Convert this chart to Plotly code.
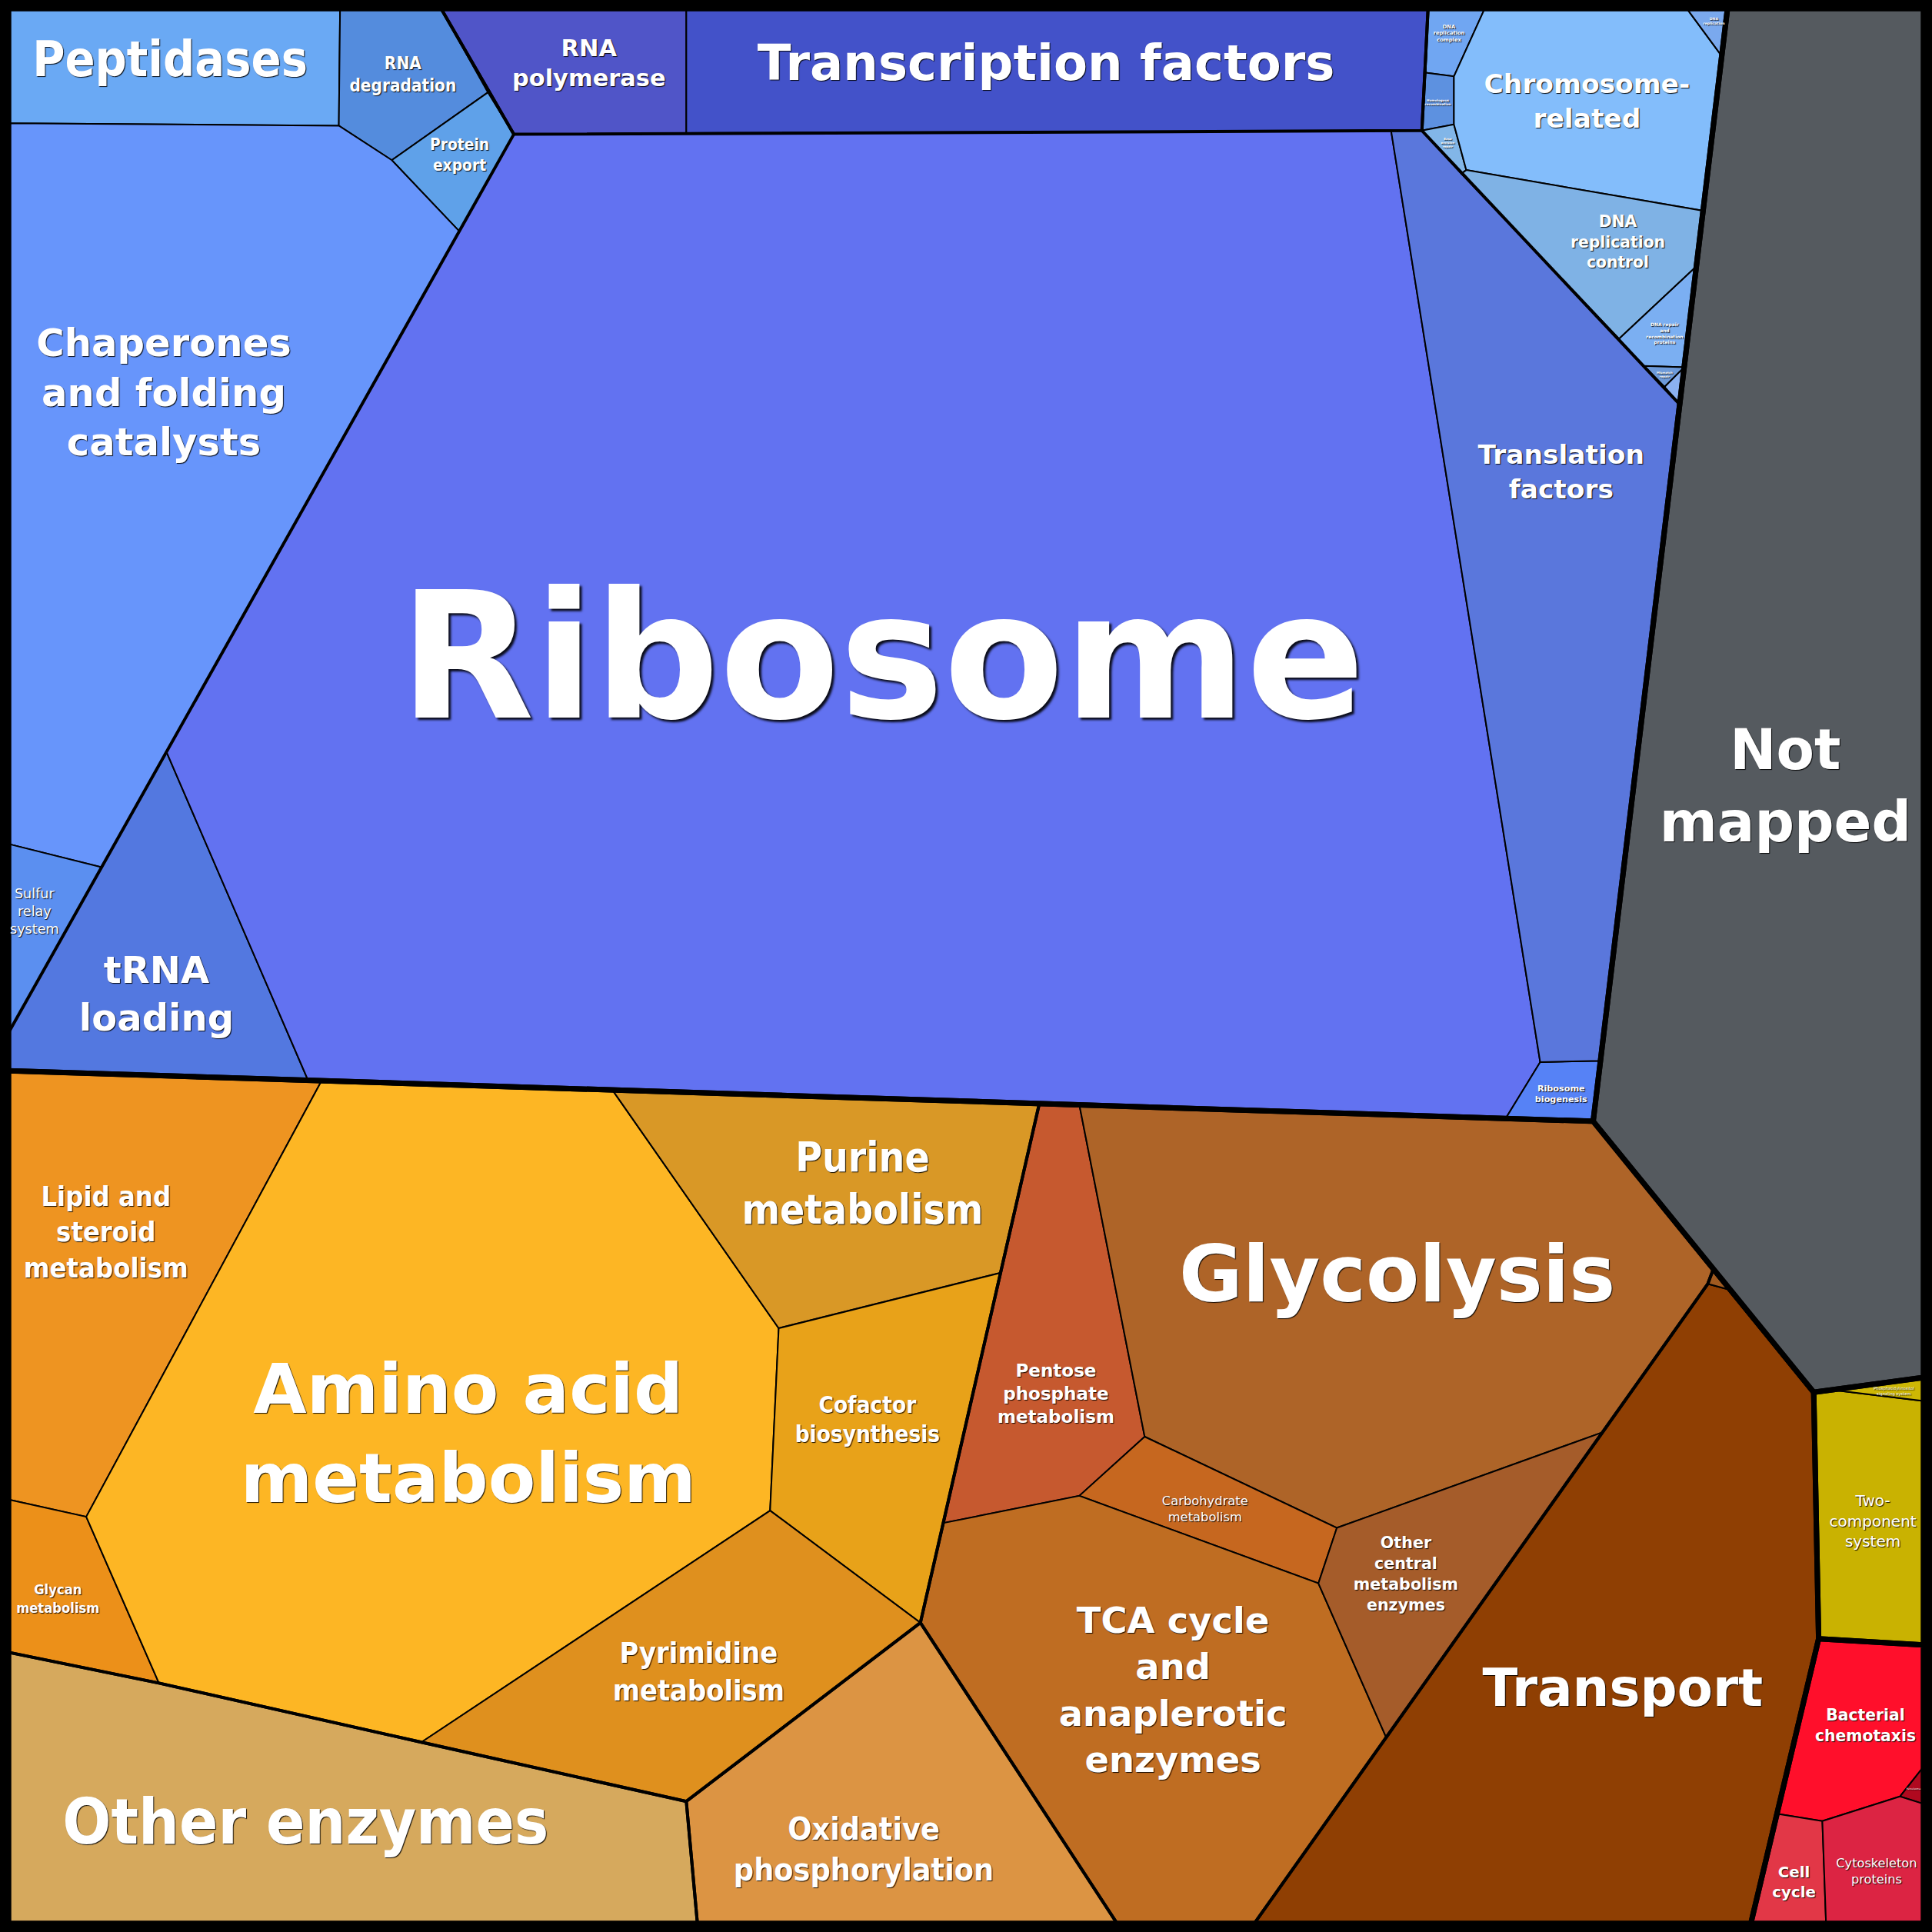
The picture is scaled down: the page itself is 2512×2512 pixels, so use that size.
import plotly.graph_objects as go

# ---- data: functional categories, their sub-category and top category ----
CATEGORIES = [
    "Peptidases", "RNA degradation", "Protein export", "Chaperones and folding catalysts", "Sulfur relay system",
    "tRNA loading", "Ribosome", "Ribosome biogenesis", "Translation factors",
    "RNA polymerase", "Transcription factors",
    "DNA replication complex", "Homologous recombination", "Base excision repair", "Chromosome-related",
    "DNA replication", "DNA replication control", "DNA repair and recombination proteins", "Mismatch repair",
    "Other repair",
    "Lipid and steroid metabolism", "Glycan metabolism", "Amino acid metabolism", "Purine metabolism",
    "Cofactor biosynthesis", "Pyrimidine metabolism", "Other enzymes", "Oxidative phosphorylation",
    "Pentose phosphate metabolism", "Glycolysis", "Carbohydrate metabolism",
    "TCA cycle and anaplerotic enzymes", "Other central metabolism enzymes", "Transport", "Other transport",
    "Not mapped",
    "Two-component system", "Phosphatidylinositol signaling system",
    "Bacterial chemotaxis", "Peroxisome", "Cell cycle", "Cytoskeleton proteins",
]
SUBGROUPS = (
    ["Folding, sorting and degradation"] * 5 + ["Translation"] * 4 + ["Transcription"] * 2
    + ["Replication and repair"] * 9
    + ["Building block metabolism"] * 6 + ["Other enzymes", "Energy metabolism"]
    + ["Central carbon metabolism"] * 5 + ["Membrane transport"] * 2
    + ["Not mapped"] + ["Signal transduction"] * 2 + ["Cellular processes"] * 4
)
GROUPS = (
    ["Genetic information processing"] * 20 + ["Metabolism"] * 15 + ["Not mapped"]
    + ["Environmental information processing"] * 2 + ["Cellular processes"] * 4
)

# ---- style ----
COLORS = {
    "Peptidases": "#6aa9f4", "RNA degradation": "#548cdd", "Protein export": "#5fa1e9",
    "Chaperones and folding catalysts": "#6795fb", "Sulfur relay system": "#5b8ff0",
    "tRNA loading": "#5378e0", "Ribosome": "#6272f1", "Ribosome biogenesis": "#5682f6",
    "Translation factors": "#5a77dc", "RNA polymerase": "#5055c8", "Transcription factors": "#4352c9",
    "DNA replication complex": "#70a6f2", "Homologous recombination": "#5d91e0",
    "Base excision repair": "#82b6e8", "Chromosome-related": "#83bdfb", "DNA replication": "#7aa9ee",
    "DNA replication control": "#7fb2e5", "DNA repair and recombination proteins": "#7baff2",
    "Mismatch repair": "#6d9ad9", "Other repair": "#8bb1f1",
    "Lipid and steroid metabolism": "#ee9421", "Glycan metabolism": "#ec9019",
    "Amino acid metabolism": "#fdb624", "Purine metabolism": "#d99826", "Cofactor biosynthesis": "#e8a219",
    "Pyrimidine metabolism": "#df901e", "Other enzymes": "#d6a95d", "Oxidative phosphorylation": "#dc9443",
    "Pentose phosphate metabolism": "#c6592f", "Glycolysis": "#ae6428", "Carbohydrate metabolism": "#c6671f",
    "TCA cycle and anaplerotic enzymes": "#bf6d22", "Other central metabolism enzymes": "#a55c2a",
    "Transport": "#8f3f03", "Other transport": "#a05a20",
    "Not mapped": "#555a5f",
    "Two-component system": "#c9b201", "Phosphatidylinositol signaling system": "#cdb704",
    "Bacterial chemotaxis": "#ff0f2b", "Peroxisome": "#b0091f", "Cell cycle": "#e23747",
    "Cytoskeleton proteins": "#dc2443",
}

# ---- layout geometry (canvas units 0..1568, y downwards) ----
CANVAS = 1568
CELLS = {
    "Peptidases": [(7, 7), (276, 7), (275, 102), (7, 100)],
    "RNA degradation": [(276, 7), (358, 7), (396, 75), (318, 130), (275, 102)],
    "Protein export": [(396, 75), (417, 109), (373, 188), (318, 130)],
    "Chaperones and folding catalysts": [(7, 100), (275, 102), (318, 130), (373, 188), (83, 704), (7, 685)],
    "Sulfur relay system": [(7, 685), (83, 704), (7, 838)],
    "tRNA loading": [(135, 610), (250, 876.7), (7, 869), (7, 838)],
    "Ribosome": [(417, 109), (1129, 106), (1250, 862), (1222, 907.7), (876, 896.7), (843.5, 895.7),
                 (497, 884.6), (250, 876.7), (135, 610)],
    "Ribosome biogenesis": [(1250, 862), (1299, 861), (1293, 910), (1222, 907.7)],
    "Translation factors": [(1129, 106), (1154, 106), (1363, 328), (1299, 861), (1250, 862)],
    "RNA polymerase": [(358, 7), (557, 7), (557, 108), (417, 109)],
    "Transcription factors": [(557, 7), (1159, 7), (1154, 106), (557, 108)],
    "DNA replication complex": [(1159, 7), (1205, 7), (1180, 62), (1157, 59)],
    "Homologous recombination": [(1157, 59), (1180, 62), (1180, 101), (1154, 106)],
    "Base excision repair": [(1154, 106), (1180, 101), (1190, 138), (1186, 141)],
    "Chromosome-related": [(1205, 7), (1369, 7), (1397, 45), (1382, 171), (1190, 138), (1180, 101), (1180, 62)],
    "DNA replication": [(1369, 7), (1402, 7), (1397, 45)],
    "DNA replication control": [(1186, 141), (1190, 138), (1382, 171), (1377, 216), (1314, 275)],
    "DNA repair and recombination proteins": [(1314, 275), (1377, 216), (1367, 298), (1334, 297)],
    "Mismatch repair": [(1334, 297), (1367, 298), (1351, 314)],
    "Other repair": [(1351, 314), (1367, 298), (1363, 328)],
    "Lipid and steroid metabolism": [(7, 869), (261, 877.1), (70, 1231), (7, 1217)],
    "Glycan metabolism": [(7, 1217), (70, 1231), (129, 1366), (7, 1341)],
    "Amino acid metabolism": [(261, 877.1), (497, 884.6), (632, 1078), (625, 1226), (342, 1414),
                              (129, 1366), (70, 1231)],
    "Purine metabolism": [(497, 884.6), (843.5, 895.7), (812, 1033), (632, 1078)],
    "Cofactor biosynthesis": [(632, 1078), (812, 1033), (766, 1236), (747, 1317), (625, 1226)],
    "Pyrimidine metabolism": [(625, 1226), (747, 1317), (557, 1462), (342, 1414)],
    "Other enzymes": [(7, 1341), (129, 1366), (342, 1414), (557, 1462), (566, 1561), (7, 1561)],
    "Oxidative phosphorylation": [(557, 1462), (747, 1317), (906.6, 1561), (566, 1561)],
    "Pentose phosphate metabolism": [(843.5, 895.7), (876, 896.7), (929, 1166), (876, 1214), (766, 1236)],
    "Glycolysis": [(876, 896.7), (1293, 910), (1390.5, 1030), (1386, 1042), (1300.5, 1162.5),
                   (1085, 1240), (929, 1166)],
    "Carbohydrate metabolism": [(929, 1166), (1085, 1240), (1070, 1285), (876, 1214)],
    "TCA cycle and anaplerotic enzymes": [(747, 1317), (766, 1236), (876, 1214), (1070, 1285), (1125, 1410),
                                          (1018, 1561), (906.6, 1561)],
    "Other central metabolism enzymes": [(1085, 1240), (1300.5, 1162.5), (1125, 1410), (1070, 1285)],
    "Transport": [(1386, 1042), (1404.5, 1047), (1472, 1130), (1476, 1330), (1421, 1561), (1018, 1561),
                  (1125, 1410), (1300.5, 1162.5)],
    "Other transport": [(1390.5, 1030), (1404.5, 1047), (1386, 1042)],
    "Not mapped": [(1402, 7), (1561, 7), (1561, 1118), (1472, 1130), (1293, 910)],
    "Two-component system": [(1486, 1128), (1561, 1137), (1561, 1335), (1476, 1330), (1472, 1130)],
    "Phosphatidylinositol signaling system": [(1486, 1128), (1561, 1118), (1561, 1137)],
    "Bacterial chemotaxis": [(1476, 1330), (1561, 1335), (1561, 1434), (1542, 1458), (1479, 1478), (1442, 1472)],
    "Peroxisome": [(1561, 1434), (1561, 1464), (1542, 1458)],
    "Cell cycle": [(1442, 1472), (1479, 1478), (1482, 1561), (1421, 1561)],
    "Cytoskeleton proteins": [(1479, 1478), (1542, 1458), (1561, 1464), (1561, 1561), (1482, 1561)],
}
SUBGROUP_OUTLINES = {
    "Folding, sorting and degradation": [(7, 7), (358, 7), (417, 109), (7, 838)],
    "Transcription": [(358, 7), (1159, 7), (1154, 106), (417, 109)],
    "Replication and repair": [(1159, 7), (1402, 7), (1363, 328), (1154, 106)],
    "Building block metabolism": [(7, 869), (843.5, 895.7), (747, 1317), (557, 1462), (342, 1414),
                                  (129, 1366), (7, 1341)],
    "Other enzymes": CELLS["Other enzymes"],
    "Energy metabolism": CELLS["Oxidative phosphorylation"],
    "Central carbon metabolism": [(843.5, 895.7), (1293, 910), (1390.5, 1030), (1386, 1042), (1018, 1561),
                                  (906.6, 1561), (747, 1317)],
    "Membrane transport": [(1390.5, 1030), (1472, 1130), (1476, 1330), (1421, 1561), (1018, 1561), (1386, 1042)],
}
GROUP_OUTLINES = {
    "Genetic information processing": [(7, 7), (1402, 7), (1293, 910), (7, 869)],
    "Metabolism": [(7, 869), (1293, 910), (1472, 1130), (1476, 1330), (1421, 1561), (7, 1561)],
    "Not mapped": CELLS["Not mapped"],
    "Environmental information processing": [(1472, 1130), (1561, 1118), (1561, 1335), (1476, 1330)],
    "Cellular processes": [(1476, 1330), (1561, 1335), (1561, 1561), (1421, 1561)],
}

# label: centre x, centre y, em size (canvas units), font style
LABELS = {
    "Peptidases": (138, 50, 40, "cond"),
    "RNA degradation": (327, 61, 14, "cond"),
    "Protein export": (373, 126, 13, "cond"),
    "Chaperones and folding catalysts": (133, 320, 31, "bold"),
    "Sulfur relay system": (28, 740, 11, "book"),
    "tRNA loading": (127, 808, 30, "bold"),
    "Ribosome": (716, 540, 142, "bold"),
    "Ribosome biogenesis": (1267, 888, 7, "bold"),
    "Translation factors": (1267, 384, 21.5, "bold"),
    "RNA polymerase": (478, 52, 19, "bold"),
    "Transcription factors": (849, 53, 40, "bold"),
    "DNA replication complex": (1176, 27, 4.2, "bold"),
    "Homologous recombination": (1167, 83, 2.6, "bold"),
    "Base excision repair": (1175, 116, 2.4, "bold"),
    "Chromosome-related": (1288, 83, 21.5, "bold"),
    "DNA replication": (1391, 17, 2.9, "bold"),
    "DNA replication control": (1313, 197, 12.7, "bold"),
    "DNA repair and recombination proteins": (1351, 271, 3.7, "bold"),
    "Mismatch repair": (1351, 304, 2.4, "bold"),
    "Lipid and steroid metabolism": (86, 1001, 22.5, "cond"),
    "Glycan metabolism": (47, 1298, 11.4, "cond"),
    "Amino acid metabolism": (380, 1166, 56, "bold"),
    "Purine metabolism": (700, 962, 33, "cond"),
    "Cofactor biosynthesis": (704, 1153, 18.4, "cond"),
    "Pyrimidine metabolism": (567, 1358, 23.5, "cond"),
    "Other enzymes": (248, 1481, 51.6, "cond"),
    "Oxidative phosphorylation": (701, 1502, 25.5, "cond"),
    "Pentose phosphate metabolism": (857, 1132, 14.4, "bold"),
    "Glycolysis": (1134, 1037, 63, "bold"),
    "Carbohydrate metabolism": (978, 1225, 10.2, "book"),
    "TCA cycle and anaplerotic enzymes": (952, 1373, 29, "bold"),
    "Other central metabolism enzymes": (1141, 1278, 12.9, "bold"),
    "Transport": (1317, 1372, 42, "bold"),
    "Not mapped": (1449, 640, 45, "bold"),
    "Two-component system": (1520, 1235, 12.5, "book"),
    "Phosphatidylinositol signaling system": (1537, 1129, 3.3, "book"),
    "Bacterial chemotaxis": (1514, 1401, 12.7, "bold"),
    "Peroxisome": (1553, 1452, 2, "book"),
    "Cell cycle": (1456, 1528, 12.4, "bold"),
    "Cytoskeleton proteins": (1523, 1519, 10.1, "book"),
}
LABEL_LINES = {
    "Chaperones and folding catalysts": ["Chaperones", "and folding", "catalysts"],
    "RNA degradation": ["RNA", "degradation"],
    "Protein export": ["Protein", "export"],
    "Sulfur relay system": ["Sulfur", "relay", "system"],
    "tRNA loading": ["tRNA", "loading"],
    "Ribosome biogenesis": ["Ribosome", "biogenesis"],
    "Translation factors": ["Translation", "factors"],
    "RNA polymerase": ["RNA", "polymerase"],
    "DNA replication complex": ["DNA", "replication", "complex"],
    "Homologous recombination": ["Homologous", "recombination"],
    "Base excision repair": ["Base", "excision", "repair"],
    "Chromosome-related": ["Chromosome-", "related"],
    "DNA replication": ["DNA", "replication"],
    "DNA replication control": ["DNA", "replication", "control"],
    "DNA repair and recombination proteins": ["DNA repair", "and", "recombination", "proteins"],
    "Mismatch repair": ["Mismatch", "repair"],
    "Lipid and steroid metabolism": ["Lipid and", "steroid", "metabolism"],
    "Glycan metabolism": ["Glycan", "metabolism"],
    "Amino acid metabolism": ["Amino acid", "metabolism"],
    "Purine metabolism": ["Purine", "metabolism"],
    "Cofactor biosynthesis": ["Cofactor", "biosynthesis"],
    "Pyrimidine metabolism": ["Pyrimidine", "metabolism"],
    "Oxidative phosphorylation": ["Oxidative", "phosphorylation"],
    "Pentose phosphate metabolism": ["Pentose", "phosphate", "metabolism"],
    "Carbohydrate metabolism": ["Carbohydrate", "metabolism"],
    "TCA cycle and anaplerotic enzymes": ["TCA cycle", "and", "anaplerotic", "enzymes"],
    "Other central metabolism enzymes": ["Other", "central", "metabolism", "enzymes"],
    "Not mapped": ["Not", "mapped"],
    "Two-component system": ["Two-", "component", "system"],
    "Phosphatidylinositol signaling system": ["Phosphatidylinositol", "signaling system"],
    "Bacterial chemotaxis": ["Bacterial", "chemotaxis"],
    "Cell cycle": ["Cell", "cycle"],
    "Cytoskeleton proteins": ["Cytoskeleton", "proteins"],
}
FONTS = {
    "bold": ("DejaVu Sans", "bold"),
    "cond": ("DejaVu Sans Condensed, DejaVu Sans", "bold"),
    "book": ("DejaVu Sans", "normal"),
}
PX = 2512
SCALE = PX / CANVAS
W_CELL, W_SUB, W_GROUP = 2, 4, 7


def closed(pts):
    xs = [p[0] for p in pts] + [pts[0][0]]
    ys = [p[1] for p in pts] + [pts[0][1]]
    return xs, ys


fig = go.Figure()

for name in CATEGORIES:
    xs, ys = closed(CELLS[name])
    fig.add_trace(go.Scatter(x=xs, y=ys, mode="lines", fill="toself", fillcolor=COLORS[name],
                             line=dict(color="black", width=W_CELL), hoverinfo="skip", name=name))

for outlines, width in ((SUBGROUP_OUTLINES, W_SUB), (GROUP_OUTLINES, W_GROUP)):
    for name, pts in outlines.items():
        xs, ys = closed(pts)
        fig.add_trace(go.Scatter(x=xs, y=ys, mode="lines", line=dict(color="black", width=width),
                                 hoverinfo="skip", name=name))

for name in CATEGORIES:
    if name not in LABELS:
        continue
    cx, cy, em, style = LABELS[name]
    lines = LABEL_LINES.get(name, [name])
    family, weight = FONTS[style]
    size = em * SCALE
    off = max(1, round(size / 70))
    fig.add_trace(go.Scatter(
        x=[cx], y=[cy + 0.05 * em], mode="text", text=["<br>".join(lines)], textposition="middle center",
        textfont=dict(family=family, size=size, color="white", weight=weight,
                      shadow=f"{off}px {off}px {off}px rgba(0,0,0,0.9)"),
        hoverinfo="skip", showlegend=False))

fig.update_layout(
    width=PX, height=PX, margin=dict(l=0, r=0, t=0, b=0),
    paper_bgcolor="black", plot_bgcolor="black", showlegend=False,
    xaxis=dict(range=[0, CANVAS], visible=False, fixedrange=True),
    yaxis=dict(range=[CANVAS, 0], visible=False, fixedrange=True),
)
fig.write_html("out.html", config={"displayModeBar": False},
               post_script="document.body.style.margin='0';document.body.style.overflow='hidden';")
